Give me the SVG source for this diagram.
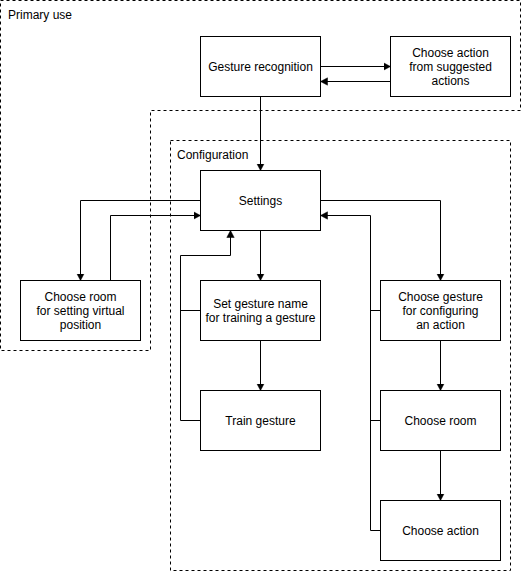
<svg xmlns="http://www.w3.org/2000/svg" width="522" height="572" viewBox="0 0 522 572">
<defs>
<style>
.c{fill:none;stroke:#000;stroke-width:1;stroke-dasharray:3 3}
.n rect{fill:#fff;stroke:#000;stroke-width:1}
text{font-family:"Liberation Sans",Arial,Helvetica,sans-serif;font-size:12px;fill:#000}
.n text{text-anchor:middle}
.e path{fill:none;stroke:#000;stroke-width:1}
.a{marker-end:url(#arr)}
</style>
<marker id="arr" markerUnits="userSpaceOnUse" markerWidth="10" markerHeight="10" viewBox="0 0 10 10" refX="7" refY="5" orient="auto">
<path d="M0,1.3 L7,5 L0,8.7 Z" fill="#000" stroke="#000" stroke-width="0.5"/>
</marker>
</defs>
<rect width="522" height="572" fill="#fff"/>
<g id="primary-use">
<path class="c" d="M0.5,0.5 H520.5 V110.5 H150.5 V350.5 H0.5 Z"/>
<text x="8" y="19">Primary use</text>
</g>
<g id="configuration">
<rect class="c" x="170.5" y="140.5" width="340" height="430"/>
<text x="177" y="159">Configuration</text>
</g>
<g id="connectors" class="e">
<path class="a" d="M320.5,66.5 H390.5"/>
<path class="a" d="M390.5,81.5 H320.5"/>
<path class="a" d="M260.5,96.5 V170.5"/>
<path class="a" d="M200.5,200.5 H80.5 V280.5"/>
<path class="a" d="M110.5,280.5 V215.5 H200.5"/>
<path class="a" d="M260.5,230.5 V280.5"/>
<path class="a" d="M260.5,340.5 V390.5"/>
<path class="a" d="M200.5,420.5 H180.5 V255.5 H230.5 V230.5"/>
<path d="M200.5,310.5 H180.5"/>
<path class="a" d="M320.5,200.5 H440.5 V280.5"/>
<path class="a" d="M380.5,530.5 H370.5 V215.5 H320.5"/>
<path d="M380.5,310.5 H370.5"/>
<path d="M380.5,420.5 H370.5"/>
<path class="a" d="M440.5,340.5 V390.5"/>
<path class="a" d="M440.5,450.5 V500.5"/>
</g>
<g id="gesture-recognition" class="n">
<rect x="200.5" y="36.5" width="120" height="60"/>
<text x="260.5" y="70.5">Gesture recognition</text>
</g>
<g id="choose-action-suggested" class="n">
<rect x="390.5" y="36.5" width="120" height="60"/>
<text x="450.5" y="56.5">Choose action</text>
<text x="450.5" y="70.5">from suggested</text>
<text x="450.5" y="84.5">actions</text>
</g>
<g id="settings" class="n">
<rect x="200.5" y="170.5" width="120" height="60"/>
<text x="260.5" y="204.5">Settings</text>
</g>
<g id="choose-room-virtual" class="n">
<rect x="20.5" y="280.5" width="120" height="60"/>
<text x="80.5" y="300.5">Choose room</text>
<text x="80.5" y="314.5">for setting virtual</text>
<text x="80.5" y="328.5">position</text>
</g>
<g id="set-gesture-name" class="n">
<rect x="200.5" y="280.5" width="120" height="60"/>
<text x="260.5" y="307.5">Set gesture name</text>
<text x="260.5" y="321.5">for training a gesture</text>
</g>
<g id="choose-gesture" class="n">
<rect x="380.5" y="280.5" width="120" height="60"/>
<text x="440.5" y="300.5">Choose gesture</text>
<text x="440.5" y="314.5">for configuring</text>
<text x="440.5" y="328.5">an action</text>
</g>
<g id="train-gesture" class="n">
<rect x="200.5" y="390.5" width="120" height="60"/>
<text x="260.5" y="424.5">Train gesture</text>
</g>
<g id="choose-room" class="n">
<rect x="380.5" y="390.5" width="120" height="60"/>
<text x="440.5" y="424.5">Choose room</text>
</g>
<g id="choose-action" class="n">
<rect x="380.5" y="500.5" width="120" height="60"/>
<text x="440.5" y="534.5">Choose action</text>
</g>
</svg>
